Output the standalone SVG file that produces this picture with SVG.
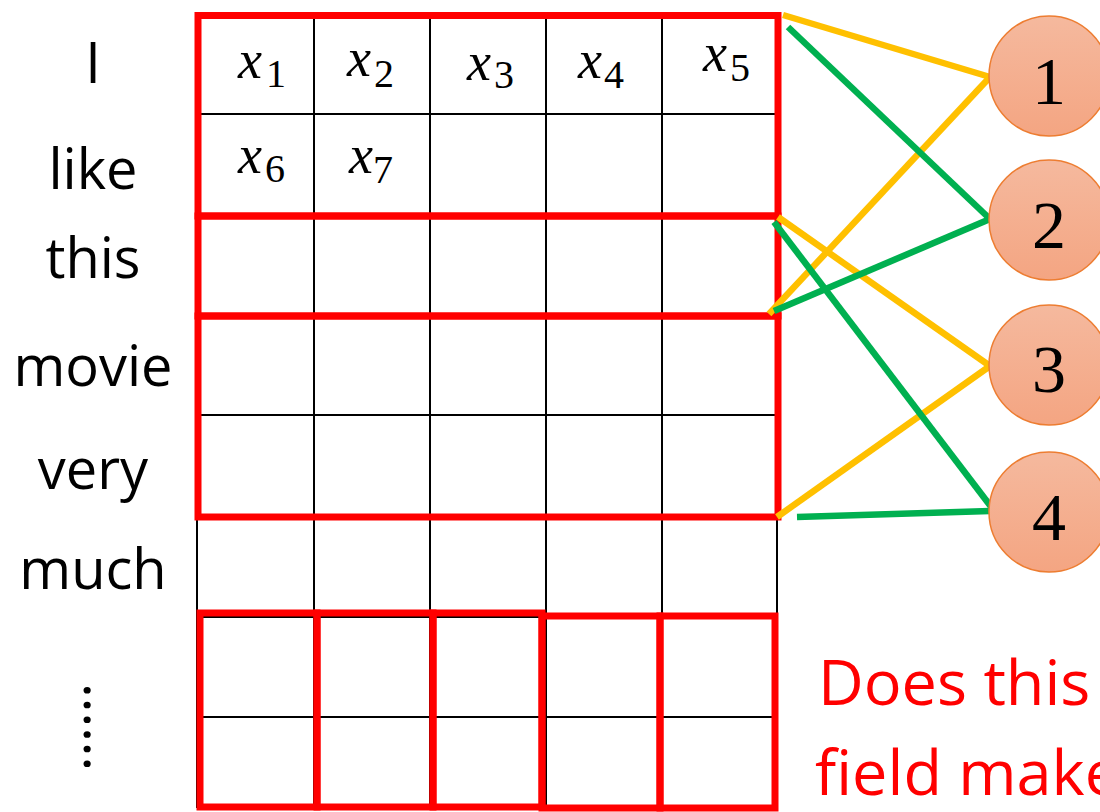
<svg xmlns="http://www.w3.org/2000/svg" width="1100" height="812" viewBox="0 0 1100 812">
<defs>
<linearGradient id="nodeFill" x1="0" y1="0" x2="0" y2="1">
<stop offset="0" stop-color="#F5B99E"/>
<stop offset="1" stop-color="#F4A582"/>
</linearGradient>
<style>
.grid{stroke:#000;stroke-width:2;fill:none}
.red{stroke:#FF0000;stroke-width:7;fill:none}
.yel{stroke:#FFC000;stroke-width:6.5;fill:none}
.grn{stroke:#00B050;stroke-width:6.5;fill:none}
.word{font-family:"Open Sans","Liberation Sans",sans-serif;font-size:56px;fill:#000;text-anchor:middle}
.q{font-family:"Open Sans","Liberation Sans",sans-serif;font-size:63px;fill:#FF0000}
.mx{font-family:"Liberation Serif","DejaVu Serif",serif;font-style:italic;font-size:54px;fill:#000}
.ms{font-family:"Liberation Serif","DejaVu Serif",serif;font-size:40px;fill:#000}
.node circle{fill:url(#nodeFill);stroke:#ED7D31;stroke-width:1.5}
.node text{font-family:"Liberation Serif","Times New Roman",serif;font-size:68px;fill:#000;text-anchor:middle}
</style>
</defs>
<rect width="1100" height="812" fill="#fff"/>
<g id="grid" class="grid">
<path d="M197 16V808M314 16V808M430 16V808M546 16V808M662 16V808M777 16V808"/>
<path d="M197 16H777M197 114H777M197 214H777M197 316H777M197 415H777M197 518H777M197 617H777M197 717H777M197 808H777"/>
</g>
<g id="words">
<text class="word" x="93" y="83">I</text>
<text class="word" x="93" y="189">like</text>
<text class="word" x="93" y="278">this</text>
<text class="word" x="93" y="386">movie</text>
<text class="word" x="93" y="489">very</text>
<text class="word" x="93" y="589">much</text>
<text class="word" x="84" y="683" transform="rotate(90 84 683)" style="text-anchor:start">......</text>
</g>
<g id="cells">
<text class="mx" x="238" y="78">x</text><text class="ms" x="266" y="87">1</text>
<text class="mx" x="347" y="76">x</text><text class="ms" x="374" y="87">2</text>
<text class="mx" x="467" y="80">x</text><text class="ms" x="494" y="88">3</text>
<text class="mx" x="578" y="78">x</text><text class="ms" x="604" y="88">4</text>
<text class="mx" x="703" y="71">x</text><text class="ms" x="730" y="81">5</text>
<text class="mx" x="238" y="173">x</text><text class="ms" x="265" y="182">6</text>
<text class="mx" x="349" y="173">x</text><text class="ms" x="373" y="183">7</text>
</g>
<g id="filters" class="red">
<rect x="198" y="15.5" width="580" height="200.5"/>
<rect x="198" y="216" width="580" height="100"/>
<rect x="198" y="316" width="580" height="201"/>
<rect x="200" y="613" width="117" height="194"/>
<rect x="317" y="613" width="116" height="194"/>
<rect x="433" y="613" width="109" height="194"/>
<rect x="542" y="616" width="118" height="192"/>
<rect x="660" y="616" width="115" height="192"/>
</g>
<g id="connectors">
<line class="yel" x1="783" y1="15" x2="990" y2="77"/>
<line class="yel" x1="990" y1="77" x2="769" y2="314"/>
<line class="yel" x1="778" y1="217" x2="990" y2="366"/>
<line class="yel" x1="990" y1="366" x2="777" y2="517"/>
<line class="grn" x1="788" y1="27" x2="990" y2="219"/>
<line class="grn" x1="990" y1="219" x2="774" y2="311"/>
<line class="grn" x1="774" y1="222" x2="992" y2="508"/>
<line class="grn" x1="797" y1="517" x2="990" y2="511"/>
</g>
<g id="node1" class="node"><circle cx="1049" cy="76" r="60"/><text x="1049" y="104">1</text></g>
<g id="node2" class="node"><circle cx="1049" cy="220" r="60"/><text x="1049" y="248">2</text></g>
<g id="node3" class="node"><circle cx="1049" cy="365" r="60"/><text x="1049" y="392">3</text></g>
<g id="node4" class="node"><circle cx="1049" cy="512" r="60"/><text x="1049" y="540">4</text></g>
<g id="question">
<text class="q" x="818" y="705">Does this</text>
<text class="q" x="815" y="795">field make</text>
</g>
</svg>
